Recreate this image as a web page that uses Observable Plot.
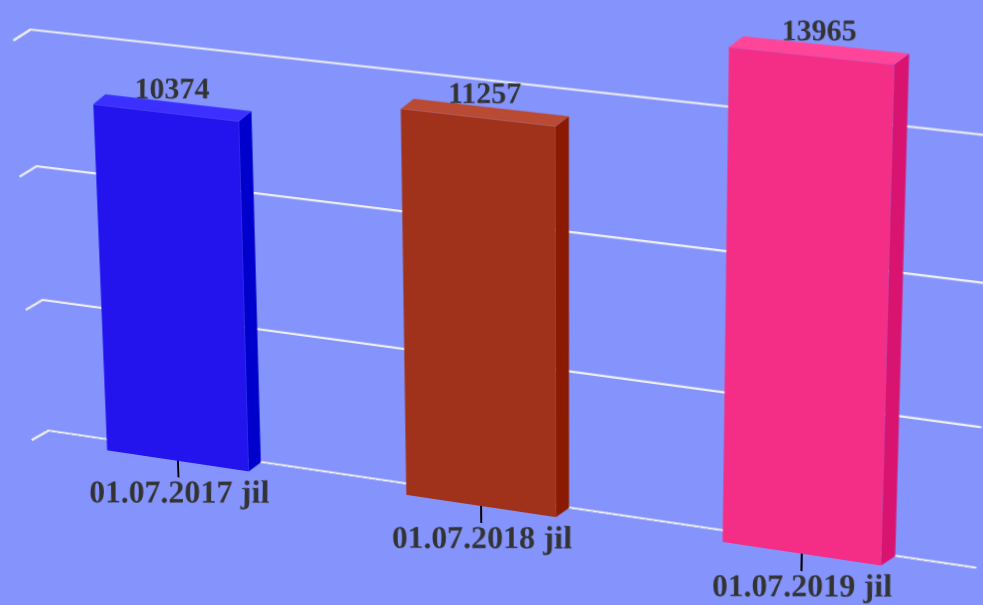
<!DOCTYPE html>
<html>
<head>
<meta charset="utf-8">
<script src="https://cdn.jsdelivr.net/npm/d3@7"></script>
<script src="https://cdn.jsdelivr.net/npm/@observablehq/plot@0.6"></script>
<style>
  html, body { margin: 0; padding: 0; width: 983px; height: 605px; overflow: hidden; background: #8494fc; }
  #chart { position: absolute; left: 0; top: 0; width: 983px; height: 605px; }
</style>
</head>
<body>
<div id="chart"></div>
<script>
// ---- data ----
const categories = ["01.07.2017 jil", "01.07.2018 jil", "01.07.2019 jil"];
const values = [10374, 11257, 13965];
const frontColors = ["#2314ee", "#a0321c", "#f42d87"];
const sideColors = ["#0000cc", "#8a1a02", "#d91470"];
const topColors = ["#3b30ff", "#b94a33", "#ff4599"];
const gridValues = [0, 4000, 8000, 12000];

// ---- flat (pre-perspective) frame ----
const XR = [6, 945], YR = [520, 119];
const kx = (XR[1] - XR[0]) / 3, ky = (YR[0] - YR[1]) / 12000;
const BD = [13 / kx, 11 / ky];   // bar depth (data units)
const WD = [18 / kx, 12 / ky];   // wall depth (data units)
const HW = 0.24;                 // half bar width (data units)
const WALL_END = 2.96;           // right end of the floor / wall (data units)

const bars = categories.map((c, i) => ({c, i, v: values[i], xc: i + 0.5,
  front: frontColors[i], side: sideColors[i], top: topColors[i]}));
const sideData = bars.flatMap(d => [
  {i: d.i, x: d.xc + HW, y1: 0, y2: d.v, color: d.side},
  {i: d.i, x: d.xc + HW + BD[0], y1: BD[1], y2: d.v + BD[1], color: d.side}
]);
const topData = bars.flatMap(d => [
  {i: d.i, y: d.v, x1: d.xc - HW, x2: d.xc + HW, color: d.top},
  {i: d.i, y: d.v + BD[1], x1: d.xc - HW + BD[0], x2: d.xc + HW + BD[0], color: d.top}
]);
const gridData = gridValues.flatMap(g => [
  {g, x: 0, y: g},
  {g, x: WD[0], y: g + WD[1]},
  {g, x: WALL_END + WD[0], y: g + WD[1]}
]);

const chart = Plot.plot({
  width: 983, height: 605, margin: 0,
  style: {background: "transparent", overflow: "visible", fontFamily: "'Liberation Serif', serif", fontWeight: "bold"},
  x: {type: "linear", domain: [0, 3], range: XR, axis: null},
  y: {type: "linear", domain: [0, 12000], range: YR, axis: null},
  color: {type: "identity"},
  marks: [
    Plot.line(gridData, {x: "x", y: "y", z: "g", stroke: "#ececf4", strokeWidth: 2.2}),
    Plot.ruleX(bars, {x: "xc", y1: d => 0, y2: d => -17 / ky, stroke: "black", strokeWidth: 2}),
    Plot.rect(bars, {x1: d => d.xc - HW, x2: d => d.xc + HW, y1: d => 0, y2: "v", fill: "front"}),
    Plot.areaY(sideData, {x: "x", y1: "y1", y2: "y2", z: "i", fill: "color"}),
    Plot.areaX(topData, {y: "y", x1: "x1", x2: "x2", z: "i", fill: "color"}),
    Plot.text(bars, {x: d => d.xc + BD[0] / 2, y: d => d.v + BD[1], text: d => String(d.v),
      lineAnchor: "bottom", dy: -4, fontSize: 30, fill: "#333"}),
    Plot.text(bars, {x: "xc", y: d => 0, text: "c", lineAnchor: "top", dy: 19, fontSize: 32, fill: "#333"})
  ]
});
document.getElementById("chart").append(chart);

// ---- perspective (homography) ----
function solve(A, B) {
  const n = B.length;
  const M = A.map((r, i) => [...r, B[i]]);
  for (let c = 0; c < n; c++) {
    let p = c;
    for (let r = c + 1; r < n; r++) if (Math.abs(M[r][c]) > Math.abs(M[p][c])) p = r;
    [M[c], M[p]] = [M[p], M[c]];
    for (let r = 0; r < n; r++) if (r !== c) {
      const f = M[r][c] / M[c][c];
      for (let k = c; k <= n; k++) M[r][k] -= f * M[c][k];
    }
  }
  return M.map((r, i) => r[n] / r[i]);
}
const xs = chart.scale("x"), ys = chart.scale("y");
const wl = xs.apply(WD[0]), wr = xs.apply(WALL_END + WD[0]), wt = ys.apply(12000 + WD[1]), wb = ys.apply(WD[1]);
const src = [[wl, wt], [wr, wt], [wl, wb], [wr, wb]];
const dst = [[30, 29], [990, 135], [48, 430], [975, 567]];
const A = [], Bv = [];
src.forEach(([x, y], i) => {
  const [u, v] = dst[i];
  A.push([x, y, 1, 0, 0, 0, -u * x, -u * y]); Bv.push(u);
  A.push([0, 0, 0, x, y, 1, -v * x, -v * y]); Bv.push(v);
});
const [a, b, c, d, e, f, g, h] = solve(A, Bv);

// keep text upright: locally undo the perspective at each label's anchor
for (const t of chart.querySelectorAll("text")) {
  const m = t.getCTM();
  const x = m.e, y = m.f;
  const w = g * x + h * y + 1;
  const X = (a * x + b * y + c) / w, Y = (d * x + e * y + f) / w;
  const j11 = (a - g * X) / w, j12 = (b - h * X) / w, j21 = (d - g * Y) / w, j22 = (e - h * Y) / w;
  const det = j11 * j22 - j12 * j21;
  const i11 = j22 / det, i12 = -j12 / det, i21 = -j21 / det, i22 = j11 / det;
  t.setAttribute("transform", (t.getAttribute("transform") || "") + ` matrix(${i11} ${i21} ${i12} ${i22} 0 0)`);
}
chart.style.position = "absolute";
chart.style.left = "0px";
chart.style.top = "0px";
chart.style.transformOrigin = "0 0";
chart.style.transform = `matrix3d(${a},${d},0,${g},${b},${e},0,${h},0,0,1,0,${c},${f},0,1)`;
</script>
</body>
</html>
